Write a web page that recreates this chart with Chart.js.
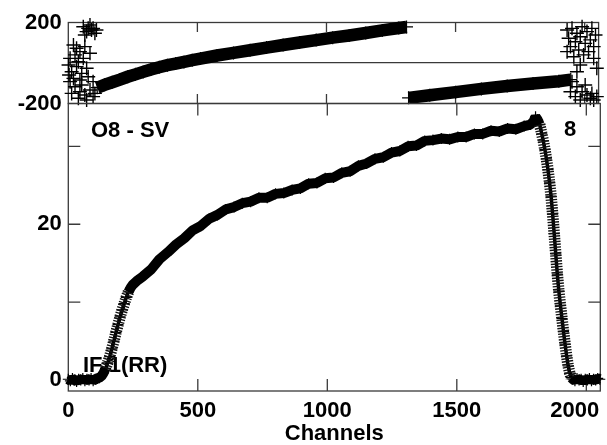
<!DOCTYPE html>
<html>
<head>
<meta charset="utf-8">
<script src="https://cdn.jsdelivr.net/npm/chart.js@4.4.1/dist/chart.umd.min.js"></script>
<style>
  html, body { margin: 0; padding: 0; background: #fff; }
  #quadro { position: relative; width: 607px; height: 445px; }
  #quadro canvas { position: absolute; left: 0; top: 0; }
</style>
</head>
<body>
<div id="quadro">
  <canvas id="graficoFase" width="607" height="445"></canvas>
  <canvas id="graficoAmp" width="607" height="445"></canvas>
</div>
<script>
// fase (graus) - faixa continua antes do salto
const faseACanais = [112, 140, 170, 200, 230, 260, 290, 320, 352, 384, 416, 448, 480, 512, 576, 640, 704, 768, 832, 896, 960, 1024, 1088, 1152, 1216, 1280, 1310];
const faseAValores = [-122, -108, -95, -82, -68, -56, -44, -32, -21, -11, -3, 5, 14, 22, 37, 50, 63, 76, 89, 101, 113, 125, 136, 148, 161, 173, 178];
// fase depois do salto de 360
const faseBCanais = [1318, 1400, 1500, 1600, 1700, 1800, 1900, 1946];
const faseBValores = [-172, -159, -144, -128, -114, -101, -90, -82];
// pontos espalhados nas bordas da banda
const dispEsqCanais = [58, 71, 84, 90, 96, 77, 103, 64, 109, 20, 32, 7, 26, 45, 1, 13, 39, 58, 71, 52, 20, 3, 84, 64, 32, 77, 96, 7, 45, 26, 45, 64, 84, 96, 39, 71, 103, 13, 52];
const dispEsqFase = [179, 155, 188, 163, 171, 171, 147, 138, 163, 89, 73, 23, 40, 56, -10, -43, 6, 23, -26, -51, -76, -59, 48, 81, -18, -68, -92, -92, -84, -117, -142, -158, -133, -166, -174, -183, -150, -150, -109];
const dispDirCanais = [1932, 1951, 1970, 1990, 2009, 2028, 2042, 1938, 1964, 1983, 2002, 2022, 2035, 1945, 1977, 2015, 1996, 1958, 2035, 1932, 1983, 2047, 1970, 1951, 1970, 1990, 2009, 2028, 2047, 1964, 1983, 2002, 2035, 1945, 2022];
const dispDirFase = [163, 171, 147, 179, 155, 171, 138, 122, 105, 130, 97, 114, 81, 81, 64, 56, 40, 31, 23, 56, -10, -26, -43, -92, -117, -142, -158, -150, -166, -166, -183, -109, -183, -142, -174];

// amplitude
const ampCanais = [0, 8, 16, 24, 32, 40, 48, 56, 64, 72, 80, 88, 96, 104, 112, 120,
  128, 136, 144, 152, 160, 168, 176, 184, 192, 200, 208, 216, 224, 232, 240, 248,
  264, 288, 320, 352, 384, 416, 448, 480, 512, 544, 576, 608, 640, 672, 704, 736, 768, 800, 832, 864, 896, 928, 960, 992,
  1024, 1056, 1088, 1120, 1152, 1184, 1216, 1248, 1280, 1312, 1344, 1376, 1408, 1440, 1472, 1504, 1536, 1568, 1600, 1632,
  1664, 1696, 1728, 1760, 1784, 1796, 1804, 1812, 1820,
  1828, 1834, 1840, 1846, 1852, 1858, 1864, 1870, 1876, 1882, 1888, 1894, 1900, 1906, 1912, 1918, 1924, 1930, 1936, 1942, 1948,
  1956, 1964, 1972, 1980, 1988, 1996, 2004, 2012, 2020, 2028, 2036, 2044, 2052];
const ampValores = [0.1, -0.1, 0.2, 0, -0.2, 0.1, 0, 0.2, -0.1, 0.1, 0, 0.2, -0.1, 0.1, 0.2, 0.3,
  0.5, 0.9, 1.5, 2.2, 3.0, 4.0, 5.0, 6.1, 7.1, 8.1, 9.0, 9.8, 10.6, 11.3, 11.8, 12.2,
  12.7, 13.3, 14.2, 15.5, 16.4, 17.4, 18.2, 19.2, 19.8, 20.7, 21.2, 21.9, 22.2, 22.7, 22.9, 23.4, 23.4, 23.9, 24.0, 24.4, 24.6, 25.2, 25.3, 25.9,
  26.0, 26.6, 26.8, 27.5, 27.8, 28.4, 28.6, 29.2, 29.4, 30.0, 30.1, 30.7, 30.8, 31.0, 30.9, 31.2, 31.2, 31.6, 31.6, 32.0,
  31.9, 32.3, 32.2, 32.6, 32.8, 33.2, 33.8, 33.4, 32.8,
  31.6, 30.7, 29.6, 28.4, 27.0, 25.4, 23.6, 21.3, 18.8, 16.2, 13.6, 11.4, 9.6, 7.9, 6.2, 4.6, 3.1, 1.8, 0.9, 0.3, 0.1,
  -0.1, 0.2, 0, 0.1, -0.2, 0.1, 0, 0.2, -0.1, 0.1, 0, 0.2, 0.1];

const ticksCanais = [0, 500, 1000, 1500, 2000];
const ultimoRotulo = 2000; // encostado na borda direita, como no original
const ticksAmp = [0, 10, 20, 30];
const rotulosAmp = [0, 20];
const ticksFase = [-200, 0, 200];
const rotulosFase = [-200, 200];
const rotulos = [
  { texto: 'O8 - SV', x: 91, y: 137 },
  { texto: '8', x: 564, y: 136 },
  { texto: 'IF 1(RR)', x: 83, y: 372 }
];

const fonteNegrito = { family: "'Liberation Sans', Arial, Helvetica, sans-serif", weight: 'bold', size: 22 };
const corMoldura = '#3a3a3a';
const paddingTicksX = 6.5;

const pares = (xs, ys) => xs.map((x, i) => ({ x: x, y: ys[i] }));
const fixarTicks = lista => s => { s.ticks = lista.map(v => ({ value: v })); };
const semPadding = (s) => { s.paddingLeft = 0; s.paddingRight = 0; s.paddingTop = 0; s.paddingBottom = 0; };

function molduraPlugin(ticksX, ticksY, compX, compY) {
  return {
    id: 'moldura',
    beforeDatasetsDraw(chart) {
      const { ctx, chartArea: a, scales } = chart;
      ctx.save();
      ctx.strokeStyle = corMoldura;
      ctx.lineWidth = 1.3;
      ctx.strokeRect(a.left, a.top, a.right - a.left, a.bottom - a.top);
      ctx.beginPath();
      ticksX.forEach(v => {
        const px = scales.x.getPixelForValue(v);
        ctx.moveTo(px, a.top); ctx.lineTo(px, a.top + compX);
        ctx.moveTo(px, a.bottom); ctx.lineTo(px, a.bottom - compX);
      });
      ticksY.forEach(v => {
        const py = scales.y.getPixelForValue(v);
        ctx.moveTo(a.left, py); ctx.lineTo(a.left + compY, py);
        ctx.moveTo(a.right, py); ctx.lineTo(a.right - compY, py);
      });
      ctx.stroke();
      ctx.restore();
    }
  };
}

const rotulosPlugin = {
  id: 'rotulos',
  beforeDatasetsDraw(chart) {
    const { ctx, chartArea: a, scales } = chart;
    ctx.save();
    ctx.fillStyle = '#000';
    ctx.font = 'bold 22px ' + fonteNegrito.family;
    ctx.textBaseline = 'alphabetic';
    rotulos.forEach(r => ctx.fillText(r.texto, r.x, r.y));
    // rotulo 2000 alinhado a direita da moldura
    ctx.textAlign = 'right';
    ctx.textBaseline = 'middle';
    ctx.fillText(String(ultimoRotulo), a.right - 1, scales.x.top + paddingTicksX + fonteNegrito.size * 1.2 / 2);
    ctx.restore();
  }
};

// segmentos muito inclinados: linha fina com hachura, o resto: faixa grossa
const ehIngreme = c => Math.abs(c.p1.y - c.p0.y) > 2.5 * Math.abs(c.p1.x - c.p0.x);

function eixoX(extra) {
  return Object.assign({
    type: 'linear', min: 0, max: 2054,
    afterBuildTicks: fixarTicks(ticksCanais),
    border: { display: false },
    grid: { drawTicks: false, drawOnChartArea: false },
    ticks: { color: '#000', padding: paddingTicksX, font: fonteNegrito, maxRotation: 0, autoSkip: false, callback: v => v === ultimoRotulo ? '' : String(v) }
  }, extra);
}

function eixoY(lista, mostrar, extra) {
  return Object.assign({
    afterBuildTicks: fixarTicks(lista),
    afterFit: s => { s.width = 68.3; semPadding(s); },
    border: { display: false },
    grid: { drawTicks: false, color: 'rgba(0,0,0,0)' },
    ticks: { color: '#000', padding: 6.6, font: fonteNegrito, autoSkip: false, callback: v => mostrar.includes(v) ? String(v) : '' }
  }, extra);
}

new Chart(document.getElementById('graficoFase'), {
  type: 'scatter',
  data: {
    datasets: [
      { data: pares(dispEsqCanais, dispEsqFase), pointStyle: 'cross', pointRadius: 7, pointBorderWidth: 1.4, borderColor: '#000', clip: false },
      { data: pares(dispDirCanais, dispDirFase), pointStyle: 'cross', pointRadius: 7, pointBorderWidth: 1.4, borderColor: '#000', clip: false },
      { data: pares(faseACanais, faseAValores), showLine: true, borderWidth: 12.5, borderColor: '#000', pointStyle: 'cross', pointRadius: 6.5, pointBorderWidth: 1.2, clip: false },
      { data: pares(faseBCanais, faseBValores), showLine: true, borderWidth: 12.5, borderColor: '#000', pointStyle: 'cross', pointRadius: 6.5, pointBorderWidth: 1.2, clip: false }
    ]
  },
  options: {
    responsive: false, animation: false, devicePixelRatio: 1,
    layout: { padding: { left: 0, right: 5.3, top: 22.5, bottom: 341.5 } },
    plugins: { legend: { display: false }, tooltip: { enabled: false } },
    scales: {
      x: eixoX({ display: false }),
      y: eixoY(ticksFase, rotulosFase, {
        min: -200, max: 200,
        grid: { drawTicks: false, lineWidth: 1.3, color: c => (c.tick && c.tick.value === 0) ? corMoldura : 'rgba(0,0,0,0)' }
      })
    }
  },
  plugins: [molduraPlugin(ticksCanais.slice(1), [], 9.5, 0)]
});

new Chart(document.getElementById('graficoAmp'), {
  type: 'scatter',
  data: {
    datasets: [
      {
        data: pares(ampCanais, ampValores), showLine: true, borderColor: '#111', pointRadius: 0, clip: false,
        segment: { borderWidth: c => ehIngreme(c) ? 11.5 : 0.01, borderDash: () => [1.4, 1.4], borderColor: c => ehIngreme(c) ? '#111' : 'rgba(0,0,0,0)' }
      },
      {
        data: pares(ampCanais, ampValores), showLine: true, borderColor: '#000', borderWidth: 10, borderJoinStyle: 'bevel',
        pointStyle: 'cross', pointRadius: 5.5, pointBorderWidth: 1.2, clip: false,
        segment: { borderWidth: c => ehIngreme(c) ? 3.5 : 10 }
      }
    ]
  },
  options: {
    responsive: false, animation: false, devicePixelRatio: 1,
    layout: { padding: { left: 0, right: 5.3, top: 103.5, bottom: 0 } },
    plugins: { legend: { display: false }, tooltip: { enabled: false } },
    scales: {
      x: eixoX({
        afterFit: s => { s.height = 54; semPadding(s); },
        title: { display: true, text: 'Channels', color: '#000', font: Object.assign({ lineHeight: 1.05 }, fonteNegrito), padding: { top: 0, bottom: 0 } }
      }),
      y: eixoY(ticksAmp, rotulosAmp, { min: -1.41, max: 35.5 })
    }
  },
  plugins: [molduraPlugin(ticksCanais.slice(1), ticksAmp, 12, 12), rotulosPlugin]
});
</script>
</body>
</html>
